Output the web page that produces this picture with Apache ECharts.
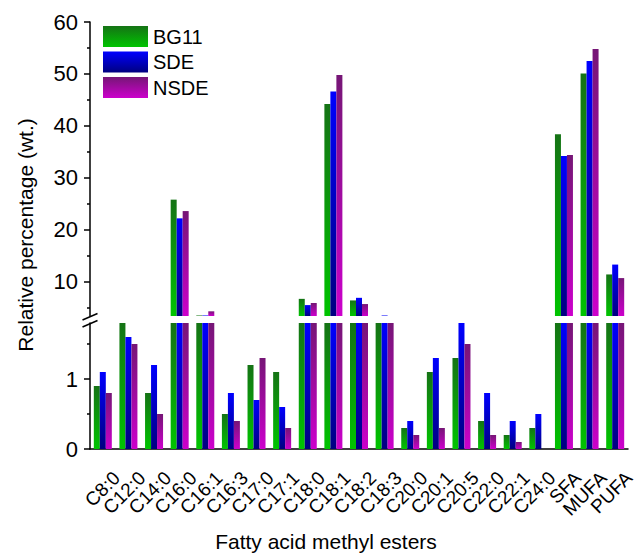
<!DOCTYPE html>
<html>
<head>
<meta charset="utf-8">
<title>Fatty acid methyl esters</title>
<script src="https://cdn.jsdelivr.net/npm/echarts@6.0.0/dist/echarts.min.js"></script>
<style>
  html, body { margin: 0; padding: 0; background: #fff; }
  #chart { width: 638px; height: 554px; }
</style>
</head>
<body>
<div id="chart"></div>
<script>
  // 数据
  const categories = ['C8:0', 'C12:0', 'C14:0', 'C16:0', 'C16:1', 'C16:3', 'C17:0', 'C17:1', 'C18:0', 'C18:1', 'C18:2',
    'C18:3', 'C20:0', 'C20:1', 'C20:5', 'C22:0', 'C22:1', 'C24:0', 'SFA', 'MUFA', 'PUFA']
  const bg11 = [0.9, 2.0, 0.8, 25.8, 3.5, 0.5, 1.2, 1.1, 6.7, 44.2, 6.4, 3.0, 0.3, 1.1, 1.3, 0.4, 0.2, 0.3, 38.4, 50.1, 11.4]
  const sde = [1.1, 1.6, 1.2, 22.2, 3.5, 0.8, 0.7, 0.6, 5.5, 46.6, 6.9, 3.5, 0.4, 1.3, 2.0, 0.8, 0.4, 0.5, 34.2, 52.5, 13.3]
  const nsde = [0.8, 1.5, 0.5, 23.6, 4.3, 0.4, 1.3, 0.3, 5.9, 49.8, 5.7, 3.0, 0.2, 0.3, 1.5, 0.2, 0.1, 0, 34.4, 54.8, 10.7]

  // 断轴两段的刻度
  const upperLabels = [10, 20, 30, 40, 50, 60]
  const upperMinor = [5, 15, 25, 35, 45, 55]
  const lowerLabels = [0, 1]
  const lowerMinor = [0.5, 1.5]

  const FONT = 'Arial, "Liberation Sans", sans-serif'
  const grad = (top, bottom) => new echarts.graphic.LinearGradient(0, 0, 0, 1, [
    { offset: 0, color: top },
    { offset: 1, color: bottom }
  ])
  const seriesDefs = [
    { name: 'BG11', data: bg11, color: grad('#157315', '#00c400') },
    { name: 'SDE', data: sde, color: grad('#0000ff', '#000080') },
    { name: 'NSDE', data: nsde, color: grad('#761676', '#cc00cc') }
  ]

  const chart = echarts.init(document.getElementById('chart'), null, { renderer: 'svg' })

  const valueAxis = (grid, min, max, labels, ticks, show) => ({
    type: 'value',
    gridIndex: grid,
    min,
    max,
    position: 'left',
    splitLine: { show: false },
    axisLine: { show, lineStyle: { color: '#000', width: 1.5 } },
    axisTick: { show: true, length: show ? 6 : 3, customValues: ticks, lineStyle: { color: '#000', width: 1.5 } },
    axisLabel: show
      ? { show: true, customValues: labels, margin: 12, color: '#000', fontSize: 22, fontFamily: FONT }
      : { show: false }
  })

  const option = {
    animation: false,
    backgroundColor: '#fff',
    grid: [
      { left: 90, right: 10, top: 22, bottom: 238 },
      { left: 90, right: 10, top: 323, bottom: 105 }
    ],
    legend: {
      orient: 'vertical',
      left: 103,
      top: 26,
      padding: 0,
      itemWidth: 45,
      itemHeight: 21,
      itemGap: 4.5,
      icon: 'rect',
      textStyle: { fontSize: 20, fontFamily: FONT, color: '#000' },
      data: seriesDefs.map(s => s.name)
    },
    xAxis: [
      { type: 'category', gridIndex: 0, data: categories, show: false },
      {
        type: 'category',
        gridIndex: 1,
        data: categories,
        axisLine: { lineStyle: { color: '#000', width: 1.5 } },
        axisTick: { alignWithLabel: true, length: 6, lineStyle: { color: '#000', width: 1.5 } },
        axisLabel: {
          rotate: 45,
          interval: 0,
          margin: 12,
          verticalAlign: 'top',
          padding: [10, 0, 0, 0],
          color: '#000',
          fontSize: 19,
          fontFamily: FONT
        }
      },
      {
        type: 'category',
        gridIndex: 1,
        data: categories,
        axisLine: { show: false },
        axisTick: { length: 3, lineStyle: { color: '#000', width: 1.5 } },
        axisLabel: { show: false }
      }
    ],
    yAxis: [
      valueAxis(0, 3.4, 60, upperLabels, upperLabels, true),
      valueAxis(0, 3.4, 60, [], upperMinor, false),
      valueAxis(1, 0, 1.8, lowerLabels, lowerLabels, true),
      valueAxis(1, 0, 1.8, [], lowerMinor, false)
    ],
    series: [
      // 上半段
      ...seriesDefs.map(s => ({
        name: s.name,
        type: 'bar',
        xAxisIndex: 0,
        yAxisIndex: 0,
        data: s.data,
        barWidth: 6,
        barGap: '0%',
        clip: true,
        itemStyle: { color: s.color }
      })),
      // 下半段
      ...seriesDefs.map(s => ({
        name: s.name,
        type: 'bar',
        xAxisIndex: 1,
        yAxisIndex: 2,
        data: s.data,
        barWidth: 6,
        barGap: '0%',
        clip: true,
        itemStyle: { color: s.color }
      }))
    ],
    graphic: [
      // 断轴符号
      { type: 'line', shape: { x1: 82.5, y1: 320, x2: 97.5, y2: 313.5 }, style: { stroke: '#000', lineWidth: 1.5 }, z: 100 },
      { type: 'line', shape: { x1: 82.5, y1: 327, x2: 97.5, y2: 320.5 }, style: { stroke: '#000', lineWidth: 1.5 }, z: 100 },
      {
        type: 'text',
        x: 25,
        y: 235,
        rotation: Math.PI / 2,
        style: { text: 'Relative percentage (wt.)', font: '21px ' + FONT, fill: '#000', align: 'center', verticalAlign: 'middle' }
      },
      {
        type: 'text',
        x: 326,
        y: 541,
        style: { text: 'Fatty acid methyl esters', font: '21px ' + FONT, fill: '#000', align: 'center', verticalAlign: 'middle' }
      }
    ]
  }

  chart.setOption(option)
</script>
</body>
</html>
